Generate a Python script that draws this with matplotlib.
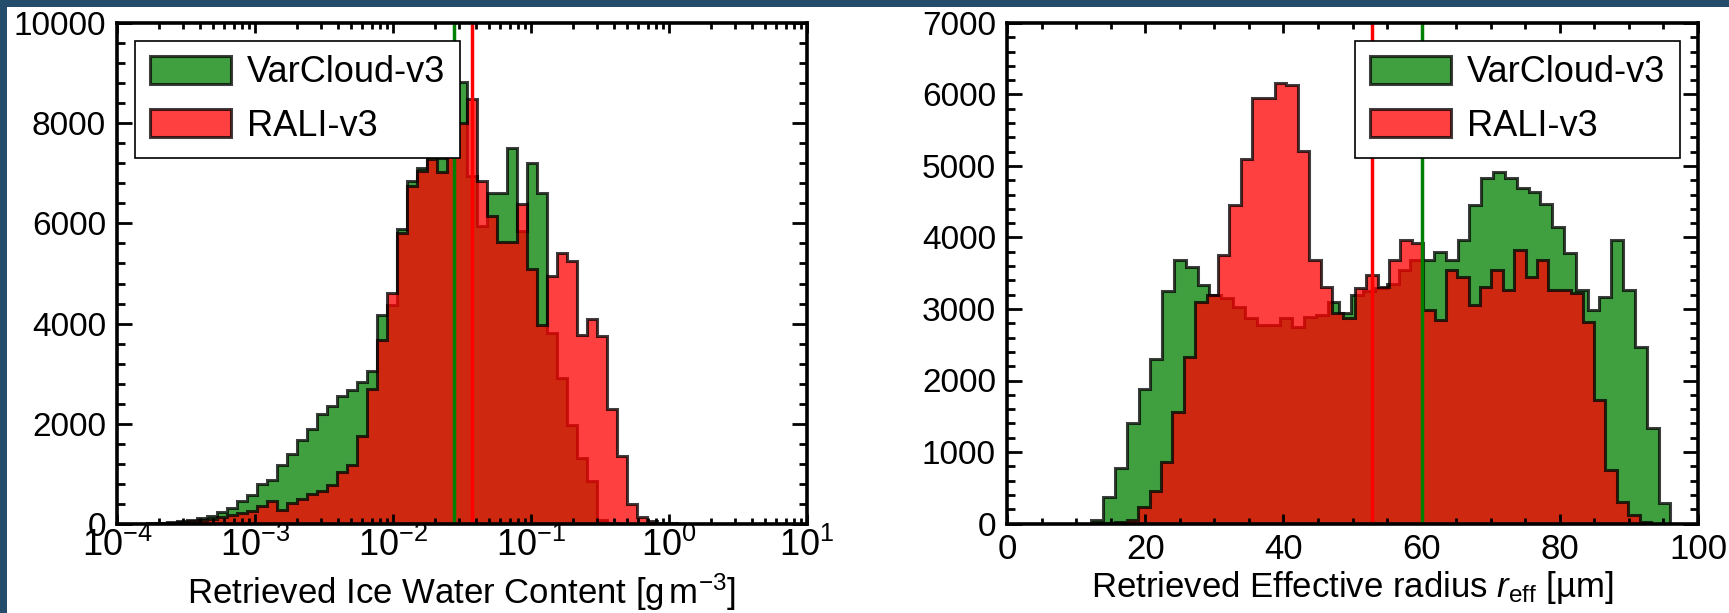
import numpy as np
import matplotlib
matplotlib.use("Agg")
import matplotlib.pyplot as plt
from matplotlib.patches import Rectangle
from matplotlib.ticker import MultipleLocator, LogLocator

plt.rcParams["font.family"] = ["Liberation Sans", "DejaVu Sans"]
plt.rcParams["mathtext.fontset"] = "custom"
plt.rcParams["mathtext.rm"] = "Liberation Sans"
plt.rcParams["mathtext.it"] = "Liberation Sans:italic"
plt.rcParams["mathtext.bf"] = "Liberation Sans:bold"

# ---------------------------------------------------------------------------
# Data: histogram counts
# ---------------------------------------------------------------------------
# Ice water content [g m-3], 69 log-spaced bins between 1e-4 and 1e1
iwc_edges = np.logspace(-4, 1, 70)
iwc_varcloud = [
    0, 0, 5, 10, 25, 40, 60, 80, 115, 160,
    230, 310, 450, 580, 790, 880, 1170, 1400, 1680, 1890,
    2190, 2360, 2550, 2680, 2830, 3050, 4180, 4380, 5880, 6850,
    7110, 7350, 7300, 9400, 8830, 6950, 5950, 6610, 6610, 7510,
    5850, 7210, 6610, 3810, 2910, 1970, 1310, 850, 80, 10,
    0, 0, 0, 0, 0, 0, 0, 0, 0, 0,
    0, 0, 0, 0, 0, 0, 0, 0, 0,
]
iwc_rali = [
    0, 0, 0, 5, 10, 20, 30, 50, 70, 100,
    130, 170, 210, 260, 350, 450, 280, 410, 490, 600,
    650, 780, 1030, 1180, 1750, 2690, 3680, 4610, 5810, 6750,
    7050, 7280, 7030, 7900, 8010, 8490, 6850, 6150, 5620, 5620,
    6380, 5080, 3980, 4950, 5410, 5250, 3780, 4090, 3750, 2290,
    1350, 400, 130, 50, 20, 10, 0, 0, 0, 0,
    0, 0, 0, 0, 0, 0, 0, 0, 0,
]
iwc_mean_varcloud = 0.0275
iwc_mean_rali = 0.0372

# Effective radius [um], 49 bins each (each series spans its own range)
reff_edges_varcloud = np.linspace(12.2, 96.0, 50)
reff_edges_rali = np.linspace(12.4, 93.2, 50)
reff_varcloud = [
    50, 375, 770, 1410, 1880, 2300, 3257, 3686, 3593, 3336,
    3196, 3150, 3034, 2871, 2778, 2778, 2871, 2754, 2894, 2917,
    3103, 2950, 3200, 3250, 3300, 3350, 3550, 3686, 3686, 3802,
    3686, 3965, 4454, 4827, 4920, 4827, 4687, 4640, 4468, 4151,
    3787, 3265, 2985, 3172, 3965, 3265, 2472, 1332, 280,
]
reff_rali = [
    5, 10, 20, 49, 235, 448, 866, 1565, 2332, 3100,
    3197, 3756, 4455, 5094, 5948, 5948, 6158, 6130, 5216, 3686,
    3313, 2940, 2870, 3290, 3476, 3314, 3686, 3965, 3919, 2990,
    2850, 3548, 3453, 3057, 3313, 3548, 3267, 3830, 3450, 3686,
    3267, 3267, 3220, 2820, 1728, 747, 306, 120, 15,
]
reff_mean_varcloud = 60.0
reff_mean_rali = 52.8

LABELS = ["VarCloud-v3", "RALI-v3"]
COLORS = ["green", "red"]

# ---------------------------------------------------------------------------
# Figure
# ---------------------------------------------------------------------------
W, H = 1729, 613
fig = plt.figure(figsize=(W / 100, H / 100), dpi=100, facecolor="white")
# slide background strips on the left and top edge
bg = "#234d6b"
fig.add_artist(Rectangle((0, 0), 7 / W, 1, transform=fig.transFigure, color=bg, lw=0))
fig.add_artist(Rectangle((0, 1 - 7 / H), 1, 7 / H, transform=fig.transFigure, color=bg, lw=0))

ax1 = fig.add_axes([117 / W, 89 / H, 690 / W, 501 / H])
ax2 = fig.add_axes([1007 / W, 89.5 / H, 691 / W, 500.5 / H])


def centers(edges, log=False):
    e = np.asarray(edges)
    return np.sqrt(e[:-1] * e[1:]) if log else 0.5 * (e[:-1] + e[1:])


def draw_hist(ax, x, edges, counts, color, label):
    ax.hist(x, bins=edges, weights=counts, histtype="stepfilled",
            color=color, alpha=0.75, edgecolor="k", lw=2.2, label=label)


def style(ax, loc, xsize, xpad):
    for s in ax.spines.values():
        s.set_linewidth(2.6)
    ax.tick_params(which="both", direction="in", top=True, right=True, width=2)
    ax.tick_params(axis="y", which="major", length=11, pad=8, labelsize=24)
    ax.tick_params(axis="y", which="minor", length=6)
    ax.tick_params(axis="x", which="major", length=7, pad=xpad, labelsize=xsize)
    ax.tick_params(axis="x", which="minor", length=4)
    leg = ax.legend(loc=loc, fontsize=26, handlelength=2.25,
                    handleheight=0.78, handletextpad=0.45, labelspacing=0.5,
                    borderpad=0.4, fancybox=False, framealpha=1,
                    edgecolor="k", borderaxespad=0.5)
    leg.get_frame().set_linewidth(1.2)
    leg.set_zorder(10)


# left: ice water content
ax1.set_xscale("log")
ic = centers(iwc_edges, log=True)
draw_hist(ax1, ic, iwc_edges, iwc_varcloud, COLORS[0], LABELS[0])
draw_hist(ax1, ic, iwc_edges, iwc_rali, COLORS[1], LABELS[1])
ax1.axvline(iwc_mean_varcloud, color="green", lw=2.5)
ax1.axvline(iwc_mean_rali, color="red", lw=2.5)
ax1.set_xlim(1e-4, 1e1)
ax1.set_ylim(0, 10000)
ax1.yaxis.set_major_locator(MultipleLocator(2000))
ax1.yaxis.set_minor_locator(MultipleLocator(400))
ax1.xaxis.set_major_locator(LogLocator(base=10, numticks=10))
ax1.xaxis.set_minor_locator(LogLocator(base=10, subs=np.arange(2, 10), numticks=20))
ax1.set_xlabel("Retrieved Ice Water Content [g$\\,$m$^{-3}$]", fontsize=25, labelpad=5)
style(ax1, "upper left", 26, 3)

# right: effective radius
draw_hist(ax2, centers(reff_edges_varcloud), reff_edges_varcloud, reff_varcloud,
          COLORS[0], LABELS[0])
draw_hist(ax2, centers(reff_edges_rali), reff_edges_rali, reff_rali,
          COLORS[1], LABELS[1])
ax2.axvline(reff_mean_rali, color="red", lw=2.5)
ax2.axvline(reff_mean_varcloud, color="green", lw=2.5)
ax2.set_xlim(0, 100)
ax2.set_ylim(0, 7000)
ax2.xaxis.set_major_locator(MultipleLocator(20))
ax2.xaxis.set_minor_locator(MultipleLocator(5))
ax2.yaxis.set_major_locator(MultipleLocator(1000))
ax2.yaxis.set_minor_locator(MultipleLocator(200))
ax2.set_xlabel("Retrieved Effective radius $r_{\\rm eff}$ [µm]", fontsize=25, labelpad=2)
style(ax2, "upper right", 25, 7)

fig.savefig("out.png", dpi=100, facecolor=fig.get_facecolor())
